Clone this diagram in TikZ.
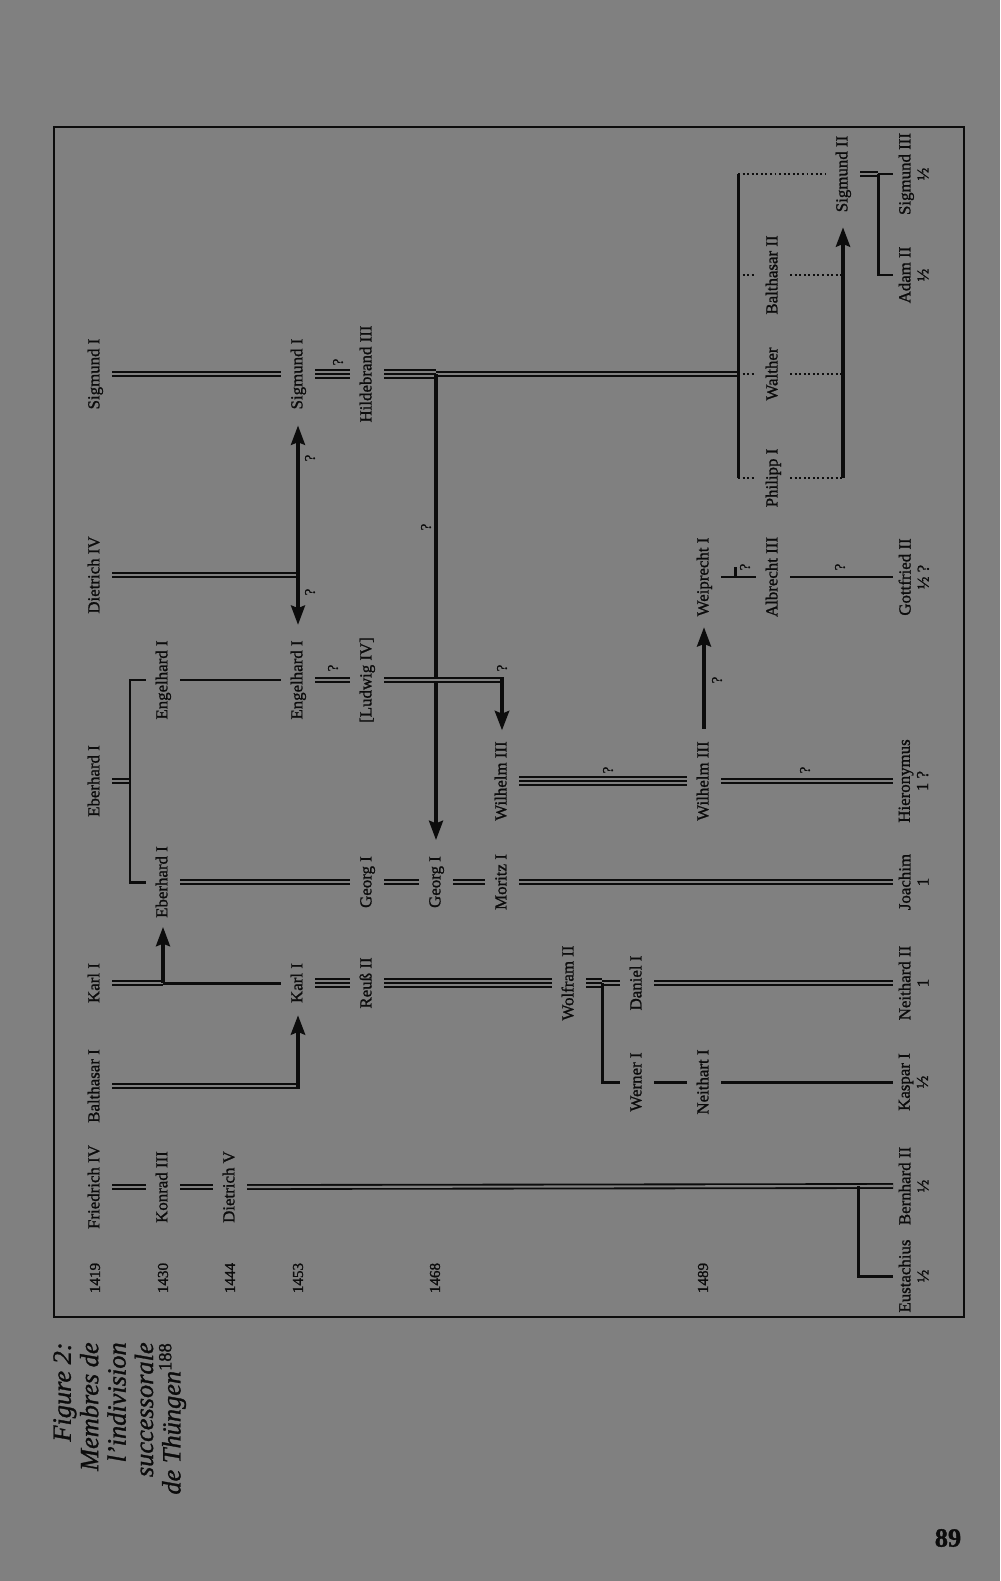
\documentclass[tikz,border=0pt]{standalone}
\usepackage{fontspec}
\setmainfont{Liberation Serif}[FakeBold=1.2]
\usetikzlibrary{arrows.meta,calc}
\definecolor{PageGray}{HTML}{808080}
\definecolor{Ink}{HTML}{0C0C0C}

\begin{document}
\begin{tikzpicture}[
    x=0.02cm, y=-0.02cm,
    >={Stealth[length=11pt, width=8pt, inset=1.5pt]},
    every node/.style={text=Ink},
    pers/.style={rotate=90, inner xsep=1pt, inner ysep=5pt, text height=7pt, text depth=2pt, font=\fontsize{9.6}{11}\selectfont},
    leaf/.style={rotate=90, anchor=north, align=center, inner xsep=1pt, inner ysep=3pt, font=\fontsize{9.6}{10.4}\selectfont},
    yr/.style={rotate=90, font=\fontsize{8.6}{10}\selectfont},
    qm/.style={rotate=90, inner sep=0pt, font=\fontsize{8.4}{8}\selectfont},
    sgl/.style={draw=Ink, line width=1.7pt},
    dbl/.style={draw=Ink, line width=1.05pt, double=PageGray, double distance=1.2pt},
    tpl/.style={draw=Ink, line width=5.6pt, postaction={draw=PageGray, line width=3.4pt}, postaction={draw=Ink, line width=1.1pt}},
    dot/.style={draw=Ink, line width=1.5pt, dash pattern=on 1.1pt off 1.5pt},
    arr/.style={draw=Ink, line width=1.8pt, ->}
]

  % Seite und Rahmen
  \fill[PageGray] (0,0) rectangle (1000,1581);
  \draw[Ink, line width=1.2pt] (54,127) rectangle (964,1317);

  % Jahre
  \node[yr] (y1419) at (95,1278) {1419};
  \node[yr] (y1430) at (163,1278) {1430};
  \node[yr] (y1444) at (230,1278) {1444};
  \node[yr] (y1453) at (298,1278) {1453};
  \node[yr] (y1468) at (435,1278) {1468};
  \node[yr] (y1489) at (703,1278) {1489};

  % =========================================================================
  % Personen
  % =========================================================================
  \node[pers] (sigI) at (95,374) {Sigmund I};
  \node[pers] (dietIV) at (95,575) {Dietrich IV};
  \node[pers] (ebI) at (95,781) {Eberhard I};
  \node[pers] (karlI) at (95,983) {Karl I};
  \node[pers] (balI) at (95,1086) {Balthasar I};
  \node[pers] (friedIV) at (95,1187) {Friedrich IV};

  \node[pers] (engI) at (163,680) {Engelhard I};
  \node[pers] (ebIb) at (163,882) {Eberhard I};
  \node[pers] (konIII) at (163,1187) {Konrad III};

  \node[pers] (dietV) at (230,1187) {Dietrich V};

  \node[pers] (sigIb) at (298,374) {Sigmund I};
  \node[pers] (engIb) at (298,680) {Engelhard I};
  \node[pers] (karlIb) at (298,983) {Karl I};

  \node[pers] (hildIII) at (367,374) {Hildebrand III};
  \node[pers] (ludIV) at (367,680) {[Ludwig IV]};
  \node[pers] (georgI) at (367,882) {Georg I};
  \node[pers] (reussII) at (367,983) {Reuß II};

  \node[pers] (georgIb) at (436,882) {Georg I};

  \node[pers] (wilIII) at (502,781) {Wilhelm III};
  \node[pers] (moritzI) at (502,882) {Moritz I};

  \node[pers] (wolfII) at (569,983) {Wolfram II};

  \node[pers] (danI) at (637,983) {Daniel I};
  \node[pers] (wernI) at (637,1082) {Werner I};

  \node[pers] (weipI) at (704,577) {Weiprecht I};
  \node[pers] (wilIIIb) at (704,781) {Wilhelm III};
  \node[pers] (neithI) at (704,1082) {Neithart I};

  \node[pers] (balII) at (773,275) {Balthasar II};
  \node[pers] (walther) at (773,374) {Walther};
  \node[pers] (philI) at (773,478) {Philipp I};
  \node[pers] (albIII) at (773,577) {Albrecht III};

  \node[pers] (sigII) at (843,174) {Sigmund II};

  % Letzte Generation
  \node[leaf] (sigIII) at (893,174) {Sigmund III\\½};
  \node[leaf] (adamII) at (893,275) {Adam II\\½};
  \node[leaf] (gottII) at (893,577) {Gottfried II\\½ ?};
  \node[leaf] (hier) at (893,781) {Hieronymus\\1 ?};
  \node[leaf] (joachim) at (893,882) {Joachim\\1};
  \node[leaf] (neithII) at (893,983) {Neithard II\\1};
  \node[leaf] (kaspI) at (893,1082) {Kaspar I\\½};
  \node[leaf] (bernII) at (893,1186) {Bernhard II\\½};
  \node[leaf] (eust) at (893,1276) {Eustachius\\½};

  % Knickpunkte
  \coordinate (ebJ) at (130,781);
  \coordinate (karlJ) at (ebIb |- karlI);
  \coordinate (dietJ) at (sigIb |- dietIV);
  \coordinate (hildJ) at (georgIb |- hildIII);
  \coordinate (wolfJ) at (602,983);
  \coordinate (brTop) at (738,174);
  \coordinate (brMid) at (738,374);
  \coordinate (brBot) at (738,478);
  \coordinate (sigJ) at (sigII |- philI);
  \coordinate (adamJ) at (878,174);
  \coordinate (bernJ) at (858,1186);

  % =========================================================================
  % Linien
  % =========================================================================
  \draw[dbl] (sigI.south) -- (sigIb.north);
  \draw[tpl] (sigIb.south) -- (hildIII.north);
  \draw[tpl] (hildIII.south) -- (hildJ);
  \draw[dbl] (hildJ) -- (brMid);
  \draw[arr, shorten >=8pt] (hildJ) -- (georgIb.east);

  \draw[dbl] (dietIV.south) -- (dietJ);
  \draw[arr, <->, shorten <=7.7pt, shorten >=8pt] (engIb.east) -- (sigIb.west);

  \draw[dbl] (ebI.south) -- (ebJ);
  \draw[sgl] (engI.north) -| (ebJ) |- (ebIb.north);
  \draw[sgl] (engI.south) -- (engIb.north);
  \draw[dbl] (engIb.south) -- (ludIV.north);
  \draw[dbl] (ludIV.south) -- (wilIII |- ludIV);
  \draw[arr, line width=2.4pt, shorten <=-1.6pt, shorten >=5pt] (wilIII |- ludIV) -- (wilIII.east);

  \draw[dbl] (ebIb.south) -- (georgI.north);
  \draw[dbl] (georgI.south) -- (georgIb.north);
  \draw[dbl] (georgIb.south) -- (moritzI.north);
  \draw[dbl] (moritzI.south) -- (joachim.north);

  \draw[tpl] (wilIII.south) -- (wilIIIb.north);
  \draw[dbl] (wilIIIb.south) -- (hier.north);
  \draw[arr, shorten <=6pt, shorten >=5pt] (wilIIIb.east) -- (weipI.west);
  \draw[sgl] (weipI.south) -- (albIII.north);
  \draw[sgl] ($(weipI.south)!0.4!(albIII.north)$) -- ++(0,-10);
  \draw[sgl] (albIII.south) -- (gottII.north);

  \draw[dbl] (karlI.south) -- (karlJ);
  \draw[sgl] (karlJ) -- (karlIb.north);
  \draw[arr, shorten >=4pt] (karlJ) -- (ebIb.west);
  \draw[dbl] (balI.south) -- (karlIb |- balI);
  \draw[arr, line width=2.4pt, shorten <=-1.6pt, shorten >=5.8pt] (karlIb |- balI) -- (karlIb.west);

  \draw[tpl] (karlIb.south) -- (reussII.north);
  \draw[tpl] (reussII.south) -- (wolfII.north);
  \draw[tpl] (wolfII.south) -- (wolfJ);
  \draw[dbl] (wolfJ) -- (danI.north);
  \draw[sgl] (wolfJ) |- (wernI.north);
  \draw[dbl] (danI.south) -- (neithII.north);
  \draw[sgl] (wernI.south) -- (neithI.north);
  \draw[sgl] (neithI.south) -- (kaspI.north);

  \draw[dbl] (friedIV.south) -- (konIII.north);
  \draw[dbl] (konIII.south) -- (dietV.north);
  \draw[dbl] (dietV.south) -- (bernII.north);
  \draw[sgl] (bernJ) |- (eust.north);

  % Klammer rechts oben
  \draw[sgl] (brTop) -- (brBot);
  \draw[dot] (brTop) -- (sigII.north);
  \draw[dot] (brTop |- balII) -- (balII.north);
  \draw[dot] (brMid) -- (walther.north);
  \draw[dot] (brBot) -- (philI.north);
  \draw[dot] (balII.south) -- (sigJ |- balII);
  \draw[dot] (walther.south) -- (sigJ |- walther);
  \draw[dot] (philI.south) -- (sigJ);
  \draw[arr, line width=2.2pt, shorten >=7.4pt] (sigJ) -- (sigII.west);
  \draw[dbl] (sigII.south) -- (adamJ);
  \draw[sgl] (adamJ) -- (sigIII.north);
  \draw[sgl] (adamJ) |- (adamII.north);

  % Fragezeichen
  \node[qm] (q1) at (338,362) {?};
  \node[qm] (q2) at (310,458) {?};
  \node[qm] (q3) at (310,592) {?};
  \node[qm] (q4) at (426,527) {?};
  \node[qm] (q5) at (333,668) {?};
  \node[qm] (q6) at (502,668) {?};
  \node[qm] (q7) at (608,770) {?};
  \node[qm] (q8) at (805,770) {?};
  \node[qm] (q9) at (717,680) {?};
  \node[qm] (q10) at (745,567) {?};
  \node[qm] (q11) at (840,567) {?};

  % Legende und Seitenzahl
  \node[rotate=90, anchor=north east, align=right, inner sep=0pt, font=\itshape\fontsize{15}{15.6}\selectfont] (cap) at (53,1342) {Figure 2:\\Membres de\\l’indivision\\successorale\\de Thüngen{\upshape\textsuperscript{188}}};
  \node[font=\bfseries\fontsize{15}{15}\selectfont] (pnum) at (948,1538) {89};

\end{tikzpicture}
\end{document}
